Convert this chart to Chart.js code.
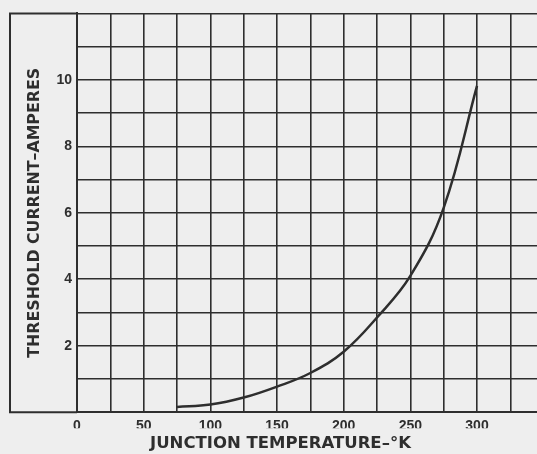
<!DOCTYPE html>
<html>
<head>
<meta charset="utf-8">
<script src="https://cdn.jsdelivr.net/npm/chart.js@4"></script>
<style>
  html, body { margin: 0; padding: 0; background: #eeeeee; }
  #wrap { width: 537px; height: 454px; }
</style>
</head>
<body>
<div id="wrap"><canvas id="chart" width="537" height="454"></canvas></div>
<script>
const temps = [75, 100, 125, 150, 175, 200, 225, 250, 275, 300];
const amps = [0.16, 0.23, 0.44, 0.77, 1.18, 1.82, 2.85, 4.1, 6.15, 9.82];

const xGrid = [0, 25, 50, 75, 100, 125, 150, 175, 200, 225, 250, 275, 300, 325];
const xLabels = [0, 50, 100, 150, 200, 250, 300];
const yGrid = [0, 1, 2, 3, 4, 5, 6, 7, 8, 9, 10, 11, 12];
const yLabels = [2, 4, 6, 8, 10];

const ink = "#2e2e2e";

// outer frame that wraps the y labels
const framePlugin = {
  id: "frame",
  beforeDraw(c) {
    const ctx = c.ctx;
    ctx.save();
    ctx.fillStyle = "#eeeeee";
    ctx.fillRect(0, 0, c.width, c.height);
    ctx.restore();
  },
  afterDraw(c) {
    const ctx = c.ctx, a = c.chartArea;
    ctx.save();
    ctx.strokeStyle = ink;
    ctx.lineWidth = 2;
    ctx.beginPath();
    ctx.moveTo(a.left, a.top);
    ctx.lineTo(10, a.top);
    ctx.lineTo(10, a.bottom);
    ctx.lineTo(a.left, a.bottom);
    ctx.stroke();
    ctx.restore();
  }
};

const points = temps.map((t, i) => ({ x: t, y: amps[i] }));

new Chart(document.getElementById("chart"), {
  type: "scatter",
  data: {
    datasets: [{
      data: points,
      showLine: true,
      borderColor: ink,
      borderWidth: 2.5,
      pointRadius: 0,
      tension: 0.4
    }]
  },
  options: {
    responsive: false,
    animation: false,
    layout: { padding: { left: 24, top: 12, right: 0, bottom: 0 } },
    plugins: {
      legend: { display: false },
      tooltip: { enabled: false },
      title: {
        display: true,
        position: "bottom",
        text: "JUNCTION TEMPERATURE–°K",
        color: ink,
        font: { family: "DejaVu Sans", size: 16.5, weight: "bold" },
        padding: { top: 6, bottom: 0 }
      }
    },
    scales: {
      x: {
        type: "linear",
        min: 0,
        max: 345,
        afterBuildTicks: s => { s.ticks = xGrid.map(v => ({ value: v })); },
        afterFit: s => { s.height = 16; },
        grid: { color: ink, lineWidth: 1.6, drawTicks: false },
        border: { color: ink, width: 2 },
        ticks: {
          color: ink,
          padding: 6,
          maxRotation: 0,
          autoSkip: false,
          font: { family: "Liberation Sans", size: 14, weight: "bold" },
          callback: v => xLabels.includes(v) ? v : ""
        }
      },
      y: {
        min: 0,
        max: 12,
        afterBuildTicks: s => { s.ticks = yGrid.map(v => ({ value: v })); },
        afterFit: s => { s.width = 53; },
        grid: { color: ink, lineWidth: 1.6, drawTicks: false },
        border: { color: ink, width: 2 },
        ticks: {
          color: ink,
          padding: 5,
          autoSkip: false,
          font: { family: "Liberation Sans", size: 14, weight: "bold" },
          callback: v => yLabels.includes(v) ? v : ""
        },
        title: {
          display: true,
          text: "THRESHOLD CURRENT–AMPERES",
          color: ink,
          padding: { top: 1, bottom: 0 },
          font: { family: "DejaVu Sans", size: 15.8, weight: "bold" }
        }
      }
    }
  },
  plugins: [framePlugin]
});
</script>
</body>
</html>
